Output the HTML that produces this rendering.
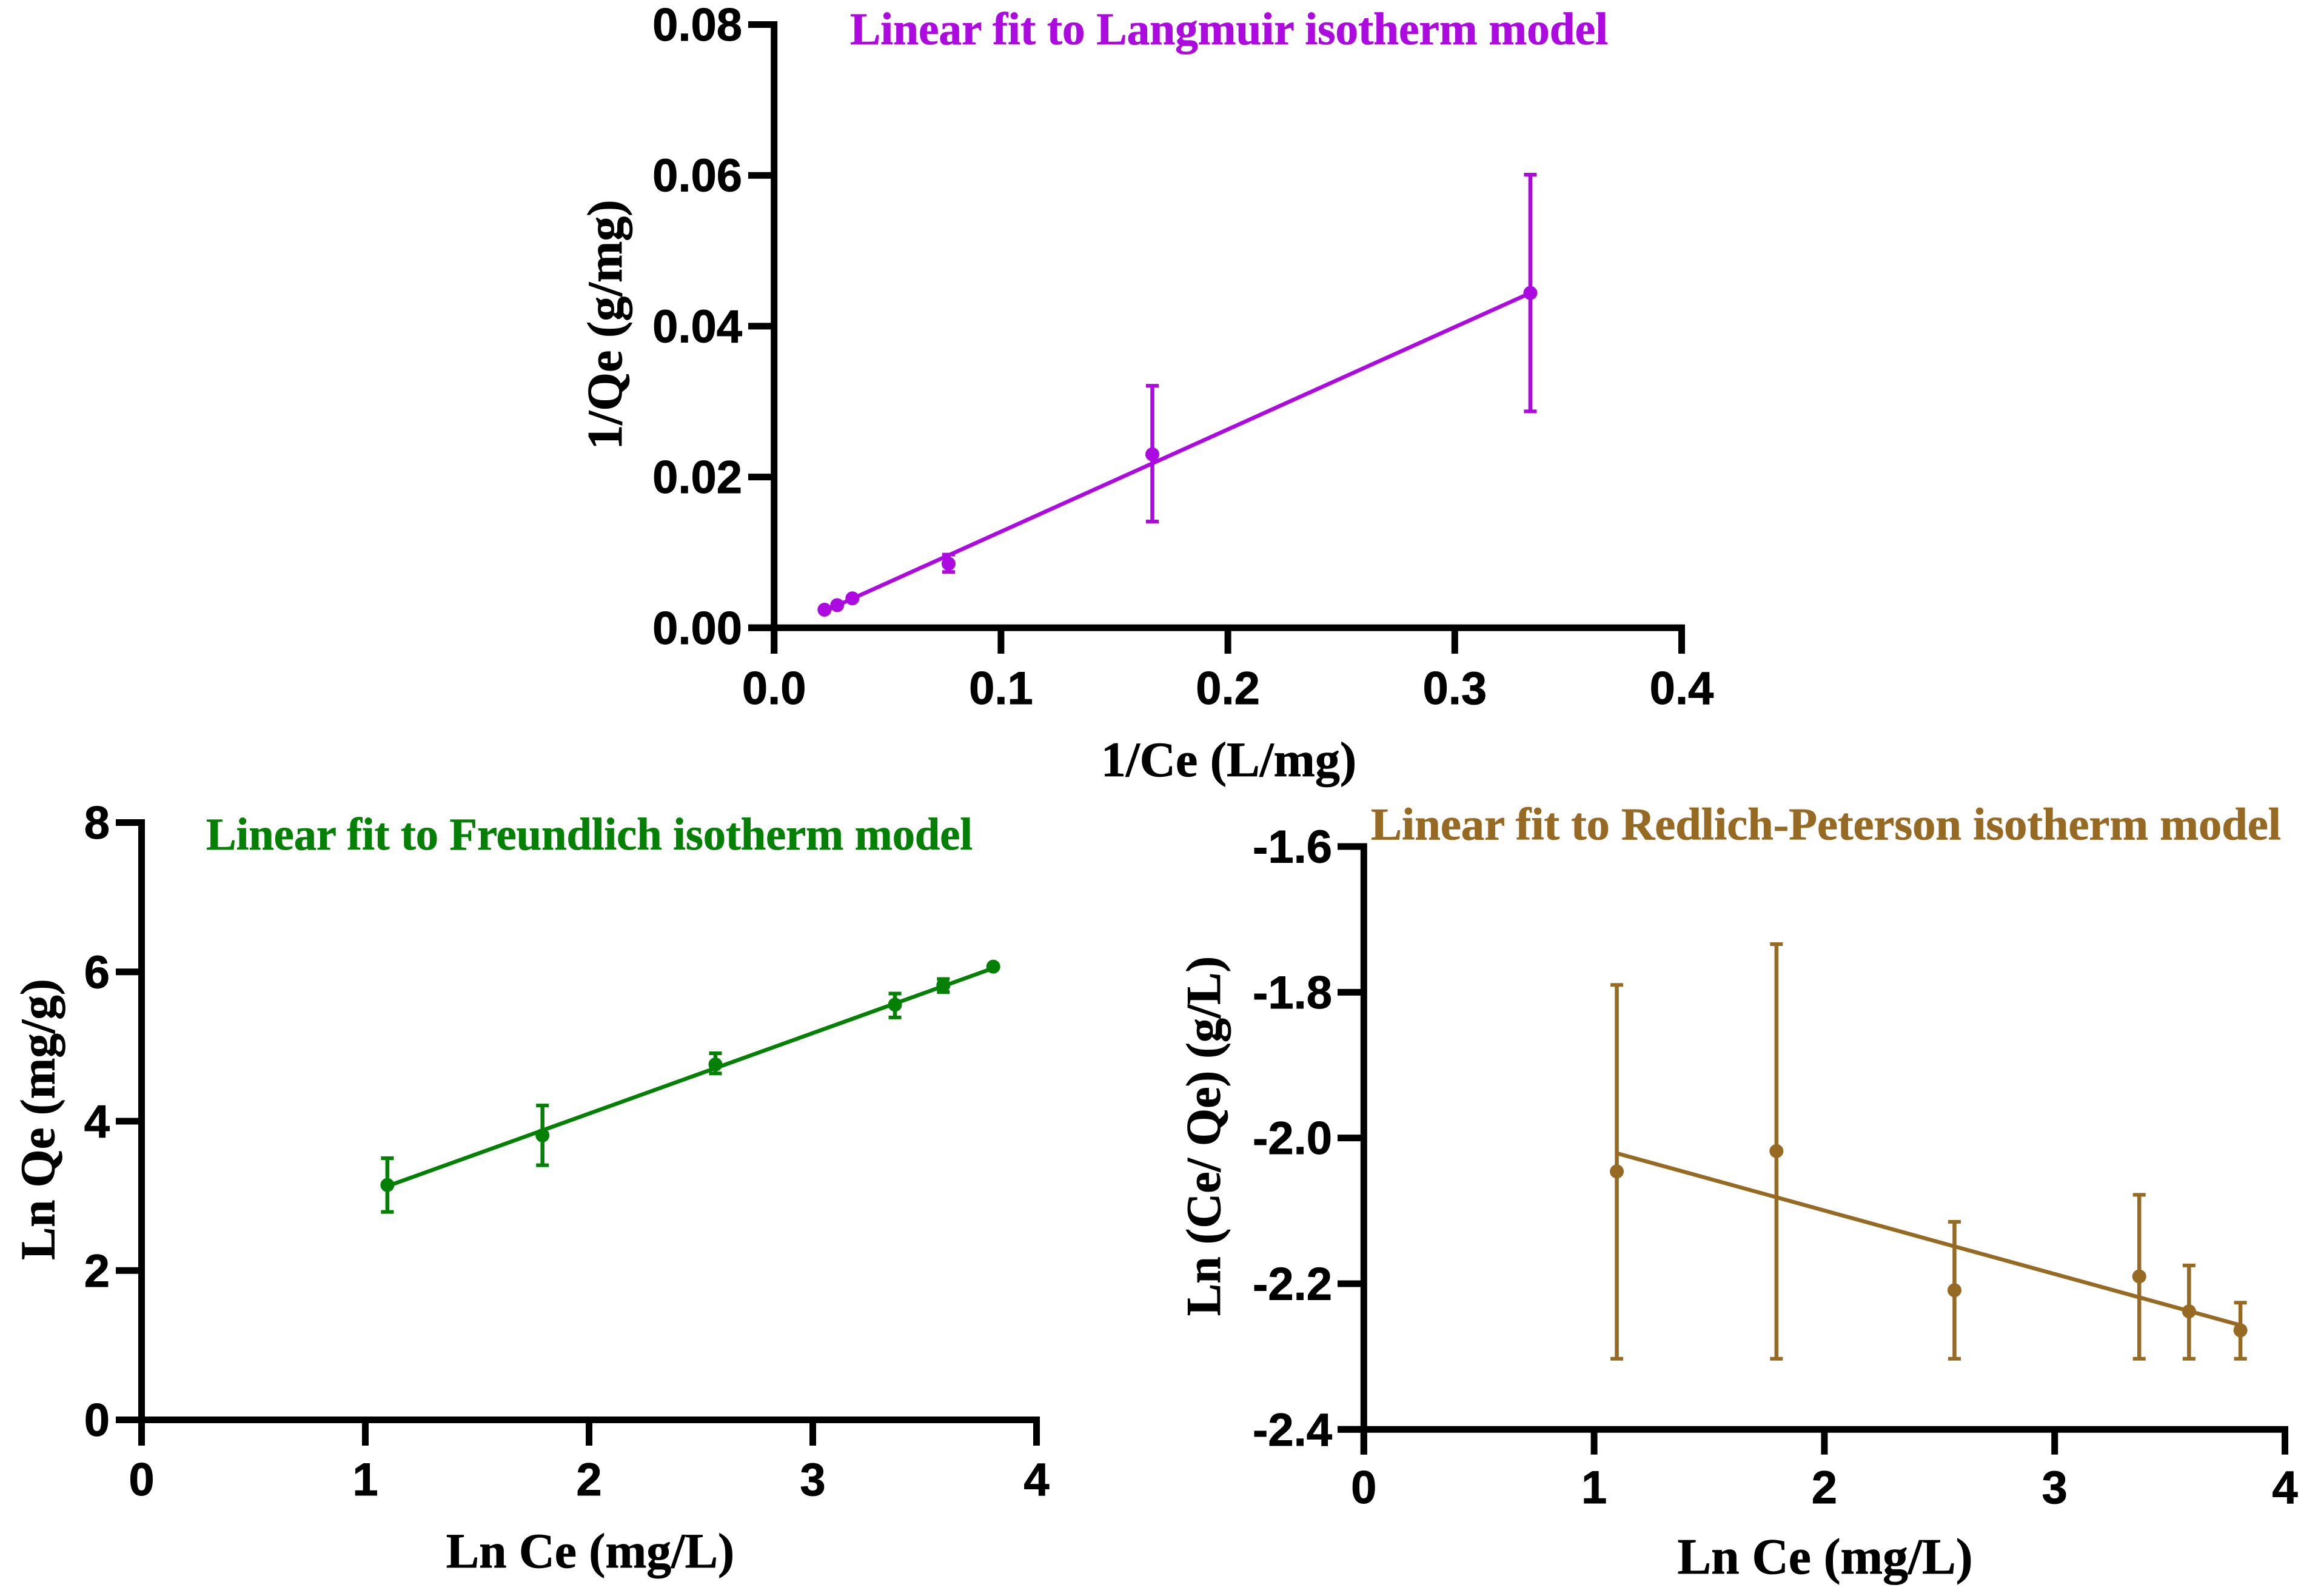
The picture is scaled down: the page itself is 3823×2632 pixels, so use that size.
<!DOCTYPE html>
<html lang="en">
<head>
<meta charset="utf-8">
<title>Linear fits to isotherm models</title>
<style>
html,body{margin:0;padding:0;background:#fff;}
svg{display:block;}
.tick{font-family:"Liberation Sans",Arial,sans-serif;font-weight:700;font-size:76px;fill:#000;stroke:#000;stroke-width:0.9px;}
.serif{font-family:"Liberation Serif","Times New Roman",serif;font-weight:700;stroke-width:0.8px;}
</style>
</head>
<body>
<svg id="figure" xmlns="http://www.w3.org/2000/svg" width="3823" height="2632" viewBox="0 0 3823 2632">
  <rect width="3823" height="2632" fill="#ffffff"/>

  <g id="panel-langmuir">
    <text class="serif" x="1402" y="73" font-size="75" fill="#ac0ae0" stroke="#ac0ae0" textLength="1250" lengthAdjust="spacingAndGlyphs">Linear fit to Langmuir isotherm model</text>
    <text class="serif" x="2026.5" y="1280" font-size="82" text-anchor="middle" fill="#000" stroke="#000">1/Ce (L/mg)</text>
    <text class="serif" transform="translate(1025 535.5) rotate(-90)" font-size="82" text-anchor="middle" fill="#000" stroke="#000">1/Qe (g/mg)</text>
  </g>

  <g id="panel-freundlich">
    <text class="serif" x="340" y="1401" font-size="75" fill="#048004" stroke="#048004" textLength="1264" lengthAdjust="spacingAndGlyphs">Linear fit to Freundlich isotherm model</text>
    <text class="serif" x="973.5" y="2585" font-size="81.5" text-anchor="middle" fill="#000" stroke="#000">Ln Ce (mg/L)</text>
    <text class="serif" transform="translate(89.5 1846) rotate(-90)" font-size="81" text-anchor="middle" fill="#000" stroke="#000">Ln Qe (mg/g)</text>
  </g>

  <g id="panel-redlich">
    <text class="serif" x="2261" y="1384.5" font-size="75" fill="#966a22" stroke="#966a22" textLength="1501" lengthAdjust="spacingAndGlyphs">Linear fit to Redlich-Peterson isotherm model</text>
    <text class="serif" x="3010" y="2595" font-size="83.5" text-anchor="middle" fill="#000" stroke="#000">Ln Ce (mg/L)</text>
    <text class="serif" transform="translate(2012 1873.5) rotate(-90)" font-size="80" text-anchor="middle" fill="#000" stroke="#000">Ln (Ce/ Qe) (g/L)</text>
  </g>
</svg>

<script>
// ---- Langmuir data ----
const langmuirX = [0.0222, 0.0278, 0.0345, 0.0769, 0.1667, 0.3333];
const langmuirY = [0.0024, 0.0030, 0.0039, 0.0085, 0.0230, 0.0444];
const langmuirLow = [null, null, null, 0.0074, 0.0141, 0.0287];
const langmuirHigh = [null, null, null, 0.0097, 0.0321, 0.0601];
const langmuirFitX = [0.0222, 0.3333];
const langmuirFitY = [0.0022, 0.0444];
const langmuirXTicks = [0, 0.1, 0.2, 0.3, 0.4];
const langmuirXLabels = ["0.0", "0.1", "0.2", "0.3", "0.4"];
const langmuirYTicks = [0, 0.02, 0.04, 0.06, 0.08];
const langmuirYLabels = ["0.00", "0.02", "0.04", "0.06", "0.08"];

// ---- Freundlich data ----
const freundlichX = [1.0986, 1.7918, 2.5649, 3.3673, 3.5835, 3.8067];
const freundlichY = [3.145, 3.81, 4.76, 5.56, 5.82, 6.07];
const freundlichLow = [2.785, 3.41, 4.64, 5.39, 5.73, null];
const freundlichHigh = [3.505, 4.21, 4.91, 5.71, 5.905, null];
const freundlichFitX = [1.0986, 3.8067];
const freundlichFitY = [3.13, 6.05];
const freundlichXTicks = [0, 1, 2, 3, 4];
const freundlichXLabels = ["0", "1", "2", "3", "4"];
const freundlichYTicks = [0, 2, 4, 6, 8];
const freundlichYLabels = ["0", "2", "4", "6", "8"];

// ---- Redlich-Peterson data ----
const redlichX = [1.0986, 1.7918, 2.5649, 3.3673, 3.5835, 3.8067];
const redlichY = [-2.046, -2.018, -2.209, -2.190, -2.238, -2.264];
const redlichLow = [-2.303, -2.303, -2.303, -2.303, -2.303, -2.303];
const redlichHigh = [-1.790, -1.734, -2.115, -2.078, -2.175, -2.226];
const redlichFitX = [1.0986, 3.8067];
const redlichFitY = [-2.021, -2.257];
const redlichXTicks = [0, 1, 2, 3, 4];
const redlichXLabels = ["0", "1", "2", "3", "4"];
const redlichYTicks = [-2.4, -2.2, -2.0, -1.8, -1.6];
const redlichYLabels = ["-2.4", "-2.2", "-2.0", "-1.8", "-1.6"];

const SVG_NS = "http://www.w3.org/2000/svg";

function linearScale(d0, d1, r0, r1) {
  return function (v) { return r0 + (v - d0) / (d1 - d0) * (r1 - r0); };
}

function make(tag, attrs, parent) {
  const node = document.createElementNS(SVG_NS, tag);
  for (const key in attrs) node.setAttribute(key, attrs[key]);
  parent.appendChild(node);
  return node;
}

function drawAxes(cfg, group) {
  const sx = cfg.sx, sy = cfg.sy, prefix = cfg.prefix;
  const x0 = sx(cfg.xTicks[0]);
  const y0 = sy(cfg.yTicks[0]);
  const xEnd = sx(cfg.xTicks[cfg.xTicks.length - 1]);
  const yEnd = sy(cfg.yTicks[cfg.yTicks.length - 1]);

  const xAxis = make("line", { x1: cfg.tickLeft, y1: y0, x2: xEnd + 5.5, y2: y0, stroke: "#000", "stroke-width": 11 }, group);
  
  

  const yAxis = make("line", { x1: x0, y1: yEnd - 5.5, x2: x0, y2: cfg.tickBottom, stroke: "#000", "stroke-width": 11 }, group);
  
  

  cfg.xTicks.forEach(function (t, i) {
    const tick = make("line", { x1: sx(t), y1: y0, x2: sx(t), y2: cfg.tickBottom, stroke: "#000", "stroke-width": 11 }, group);
    
    
    const label = make("text", { x: sx(t), y: cfg.xLabelBaseline, "text-anchor": "middle", class: "tick" }, group);
    label.textContent = cfg.xLabels[i];
    
    
  });

  cfg.yTicks.forEach(function (t, i) {
    const tick = make("line", { x1: cfg.tickLeft, y1: sy(t), x2: x0, y2: sy(t), stroke: "#000", "stroke-width": 11 }, group);
    
    
    const label = make("text", { x: cfg.yLabelRight, y: sy(t) + 26.5, "text-anchor": "end", class: "tick" }, group);
    label.textContent = cfg.yLabels[i];
    
    
  });
}

function drawSeries(cfg, group) {
  const sx = cfg.sx, sy = cfg.sy, prefix = cfg.prefix, color = cfg.color;

  const fit = make("line", {
    x1: sx(cfg.fitX[0]), y1: sy(cfg.fitY[0]),
    x2: sx(cfg.fitX[1]), y2: sy(cfg.fitY[1]),
    stroke: color, "stroke-width": 6.5
  }, group);
  
  

  cfg.x.forEach(function (xv, i) {
    const px = sx(xv);
    if (cfg.low[i] !== null && cfg.high[i] !== null) {
      const top = sy(cfg.high[i]);
      const bottom = sy(cfg.low[i]);
      const stem = make("line", { x1: px, y1: top, x2: px, y2: bottom, stroke: color, "stroke-width": 6.5 }, group);
      
      
      const capTop = make("line", { x1: px - 10.5, y1: top, x2: px + 10.5, y2: top, stroke: color, "stroke-width": 6 }, group);
      
      
      const capBottom = make("line", { x1: px - 10.5, y1: bottom, x2: px + 10.5, y2: bottom, stroke: color, "stroke-width": 6 }, group);
      
      
    }
    const dot = make("circle", { cx: px, cy: sy(cfg.y[i]), r: 11.5, fill: color }, group);
    
    
  });
}

const panels = [
  {
    prefix: "langmuir", group: "panel-langmuir", color: "#ac0ae0",
    sx: linearScale(0, 0.4, 1276.7, 2773.5), sy: linearScale(0, 0.08, 1035.3, 40.5),
    tickLeft: 1234, tickBottom: 1078, xLabelBaseline: 1161, yLabelRight: 1224,
    x: langmuirX, y: langmuirY, low: langmuirLow, high: langmuirHigh,
    fitX: langmuirFitX, fitY: langmuirFitY,
    xTicks: langmuirXTicks, xLabels: langmuirXLabels, yTicks: langmuirYTicks, yLabels: langmuirYLabels
  },
  {
    prefix: "freundlich", group: "panel-freundlich", color: "#048004",
    sx: linearScale(0, 4, 233.5, 1709.5), sy: linearScale(0, 8, 2341.5, 1356.5),
    tickLeft: 191, tickBottom: 2384, xLabelBaseline: 2466, yLabelRight: 181,
    x: freundlichX, y: freundlichY, low: freundlichLow, high: freundlichHigh,
    fitX: freundlichFitX, fitY: freundlichFitY,
    xTicks: freundlichXTicks, xLabels: freundlichXLabels, yTicks: freundlichYTicks, yLabels: freundlichYLabels
  },
  {
    prefix: "redlich-peterson", group: "panel-redlich", color: "#966a22",
    sx: linearScale(0, 4, 2249.3, 3768.5), sy: linearScale(-2.4, -1.6, 2357.3, 1396),
    tickLeft: 2206, tickBottom: 2398.7, xLabelBaseline: 2479, yLabelRight: 2197,
    x: redlichX, y: redlichY, low: redlichLow, high: redlichHigh,
    fitX: redlichFitX, fitY: redlichFitY,
    xTicks: redlichXTicks, xLabels: redlichXLabels, yTicks: redlichYTicks, yLabels: redlichYLabels
  }
];

panels.forEach(function (cfg) {
  const group = document.getElementById(cfg.group);
  drawSeries(cfg, group);
  drawAxes(cfg, group);
});
</script>
</body>
</html>
